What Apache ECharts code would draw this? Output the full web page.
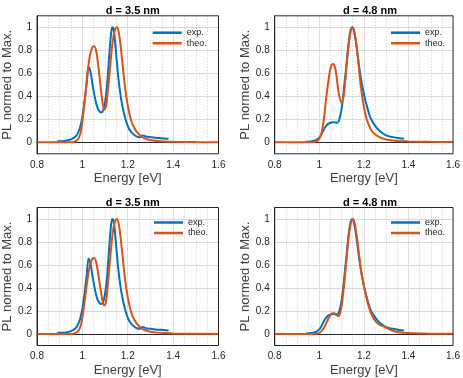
<!DOCTYPE html>
<html><head><meta charset="utf-8">
<script src="https://cdn.jsdelivr.net/npm/echarts@6/dist/echarts.min.js"></script>
<style>html,body{margin:0;padding:0;background:#fff}#c{width:463px;height:378px}</style>
</head><body><div id="c"></div>
<script>
// ---- data ----
const X_TICKS = [0.8, 1, 1.2, 1.4, 1.6];
const Y_TICKS = [0, 0.2, 0.4, 0.6, 0.8, 1];
const TITLES = ['d = 3.5 nm', 'd = 4.8 nm', 'd = 3.5 nm', 'd = 4.8 nm'];
const SERIES_NAMES = ['exp.', 'theo.'];

// d = 3.5 nm, experiment (both left panels)
const exp35_E = [0.89,0.92,0.95,0.97,0.98,0.99,1.0,1.01,1.02,1.027,1.035,1.045,1.055,1.065,1.075,1.083,1.092,1.1,1.108,1.115,1.122,1.128,1.133,1.138,1.143,1.15,1.158,1.166,1.175,1.185,1.195,1.205,1.215,1.225,1.24,1.255,1.265,1.272,1.28,1.3,1.32,1.34,1.36,1.38];
const exp35_I = [0.01,0.012,0.025,0.05,0.08,0.13,0.22,0.36,0.53,0.655,0.62,0.5,0.39,0.31,0.27,0.26,0.28,0.35,0.48,0.66,0.85,0.97,1.0,0.98,0.9,0.74,0.57,0.44,0.33,0.24,0.17,0.12,0.09,0.07,0.05,0.045,0.06,0.058,0.05,0.045,0.04,0.037,0.034,0.03];

// d = 3.5 nm, theory (top left)
const theoA_E = [0.8,0.95,0.965,0.975,0.985,0.995,1.005,1.015,1.025,1.035,1.045,1.052,1.06,1.068,1.076,1.084,1.091,1.097,1.104,1.112,1.12,1.128,1.136,1.144,1.152,1.16,1.168,1.176,1.185,1.195,1.205,1.215,1.225,1.24,1.26,1.28,1.3,1.33,1.36,1.4,1.5,1.6];
const theoA_I = [0,0,0.005,0.015,0.04,0.11,0.27,0.45,0.64,0.77,0.83,0.835,0.8,0.7,0.56,0.42,0.32,0.285,0.31,0.44,0.6,0.78,0.91,0.98,1.0,0.96,0.85,0.7,0.53,0.38,0.27,0.19,0.14,0.09,0.05,0.03,0.02,0.012,0.008,0.005,0.002,0.001];

// d = 3.5 nm, theory (bottom left)
const theoC_E = [0.8,0.95,0.965,0.975,0.985,0.995,1.005,1.015,1.025,1.035,1.045,1.052,1.06,1.068,1.076,1.084,1.091,1.097,1.104,1.112,1.12,1.128,1.136,1.144,1.152,1.16,1.168,1.176,1.185,1.195,1.205,1.215,1.225,1.24,1.26,1.28,1.3,1.33,1.36,1.4,1.5,1.6];
const theoC_I = [0,0,0.005,0.015,0.035,0.09,0.21,0.36,0.51,0.61,0.655,0.66,0.63,0.55,0.44,0.34,0.27,0.25,0.28,0.42,0.6,0.78,0.91,0.98,1.0,0.96,0.85,0.7,0.53,0.38,0.27,0.19,0.14,0.09,0.05,0.03,0.02,0.012,0.008,0.005,0.002,0.001];

// d = 4.8 nm, experiment (both right panels)
const exp48_E = [0.94,0.96,0.98,0.99,1.0,1.01,1.02,1.03,1.04,1.05,1.06,1.07,1.078,1.086,1.094,1.1,1.107,1.114,1.12,1.127,1.134,1.141,1.148,1.155,1.162,1.17,1.18,1.19,1.2,1.21,1.22,1.23,1.245,1.26,1.28,1.3,1.33,1.36,1.38];
const exp48_I = [0.005,0.008,0.015,0.025,0.04,0.07,0.11,0.14,0.16,0.17,0.175,0.172,0.17,0.18,0.23,0.29,0.4,0.53,0.64,0.78,0.9,0.98,1.0,0.97,0.9,0.79,0.64,0.52,0.42,0.34,0.27,0.21,0.16,0.12,0.085,0.06,0.045,0.035,0.03];

// d = 4.8 nm, theory (top right)
const theoB_E = [0.8,0.96,0.98,0.99,1.0,1.01,1.02,1.03,1.04,1.05,1.06,1.066,1.074,1.082,1.09,1.1,1.108,1.116,1.124,1.132,1.14,1.149,1.158,1.166,1.174,1.182,1.19,1.2,1.21,1.22,1.235,1.25,1.27,1.3,1.35,1.4,1.5,1.6];
const theoB_I = [0,0,0.005,0.012,0.03,0.08,0.19,0.37,0.52,0.64,0.68,0.675,0.62,0.5,0.4,0.345,0.39,0.52,0.7,0.85,0.96,1.0,0.96,0.86,0.72,0.56,0.43,0.31,0.22,0.16,0.1,0.07,0.045,0.025,0.012,0.008,0.004,0.002];

// d = 4.8 nm, theory (bottom right)
const theoD_E = [0.8,0.98,0.99,1.0,1.01,1.02,1.03,1.04,1.05,1.06,1.068,1.076,1.084,1.092,1.1,1.108,1.116,1.124,1.132,1.14,1.15,1.158,1.166,1.174,1.182,1.19,1.2,1.21,1.22,1.23,1.245,1.26,1.275,1.29,1.3,1.32,1.35,1.4,1.5,1.6];
const theoD_I = [0,0,0.004,0.01,0.025,0.05,0.09,0.13,0.165,0.18,0.18,0.165,0.155,0.17,0.24,0.37,0.52,0.69,0.85,0.95,1.0,0.97,0.88,0.76,0.63,0.52,0.42,0.33,0.25,0.19,0.13,0.095,0.075,0.065,0.055,0.035,0.018,0.008,0.003,0.002];

const PANELS = [
  {exp: [exp35_E, exp35_I], theo: [theoA_E, theoA_I]},
  {exp: [exp48_E, exp48_I], theo: [theoB_E, theoB_I]},
  {exp: [exp35_E, exp35_I], theo: [theoC_E, theoC_I]},
  {exp: [exp48_E, exp48_I], theo: [theoD_E, theoD_I]}
];

// ---- layout / style ----
const LAYOUT = [
  {left: 37, top: 15.8, width: 181.5, height: 138, legL: 152.7, legT: 27.7},
  {left: 274.7, top: 15.8, width: 180.5, height: 138, legL: 391, legT: 27.7},
  {left: 37, top: 207.5, width: 181.5, height: 138, legL: 154, legT: 217.5},
  {left: 274.7, top: 207.5, width: 180.5, height: 138, legL: 391, legT: 217.5}
];
const TXT = '#262626';
const FONT = 'Liberation Sans, Arial, sans-serif';
const BLUE = '#0072BD', ORANGE = '#D95319';
const pairs = (xs, ys) => xs.map((x, i) => [x, ys[i]]);

const grid = [], xAxis = [], yAxis = [], series = [], title = [], legend = [];
LAYOUT.forEach((L, i) => {
  grid.push({left: L.left, top: L.top, width: L.width, height: L.height, show: true,
    borderColor: TXT, borderWidth: 1, backgroundColor: 'rgba(0,0,0,0)', z: 10});
  title.push({text: TITLES[i], left: L.left + L.width / 2, top: L.top - 15, textAlign: 'center',
    textStyle: {fontFamily: FONT, fontSize: 11, fontWeight: 'bold', color: '#000'}});
  xAxis.push({type: 'value', gridIndex: i, min: 0.8, max: 1.6, interval: 0.2,
    name: 'Energy [eV]', nameLocation: 'middle', nameGap: 18,
    nameTextStyle: {fontFamily: FONT, fontSize: 13, color: '#404040'},
    axisLine: {show: true, lineStyle: {color: TXT, width: 1}},
    axisTick: {show: false},
    axisLabel: {fontFamily: FONT, fontSize: 10, color: TXT, margin: 6,
      formatter: v => { const t = X_TICKS.find(k => Math.abs(k - v) < 1e-6); return t === undefined ? '' : String(t); }},
    splitLine: {show: true, showMinLine: false, showMaxLine: false, lineStyle: {color: '#dedede', width: 1}},
    minorTick: {show: false, splitNumber: 4},
    minorSplitLine: {show: true, lineStyle: {color: '#cfcfcf', type: [1, 2], width: 1}}
  });
  // main y axis: labels + major grid
  yAxis.push({type: 'value', gridIndex: i, min: -0.1, max: 1.1, interval: 0.1,
    name: 'PL normed to Max.', nameLocation: 'middle', nameGap: 21,
    nameTextStyle: {fontFamily: FONT, fontSize: 13, color: '#404040'},
    axisLine: {show: true, lineStyle: {color: TXT, width: 1}},
    axisTick: {show: false},
    axisLabel: {fontFamily: FONT, fontSize: 10, color: TXT, margin: 5,
      formatter: v => { const t = Y_TICKS.find(k => Math.abs(k - v) < 1e-6); return t === undefined ? '' : String(t); }},
    splitLine: {show: true, lineStyle: {color: ['rgba(0,0,0,0)', '#dedede'], width: 1}}
  });
  // secondary y axis: minor dotted grid only
  yAxis.push({type: 'value', gridIndex: i, min: -0.1, max: 1.1, interval: 0.1, position: 'right',
    axisLine: {show: false}, axisTick: {show: false}, axisLabel: {show: false},
    splitLine: {show: true, showMinLine: false, showMaxLine: false,
      lineStyle: {color: ['#cfcfcf', 'rgba(0,0,0,0)'], type: [1, 2], width: 1}}
  });
  const P = PANELS[i];
  series.push({name: SERIES_NAMES[0], type: 'line', xAxisIndex: i, yAxisIndex: 2 * i,
    data: pairs(P.exp[0], P.exp[1]), smooth: 0.3, showSymbol: false, symbol: 'none',
    lineStyle: {color: BLUE, width: 2}, itemStyle: {color: BLUE}, z: 3});
  series.push({name: SERIES_NAMES[1], type: 'line', xAxisIndex: i, yAxisIndex: 2 * i,
    data: pairs(P.theo[0], P.theo[1]), smooth: 0.3, showSymbol: false, symbol: 'none',
    lineStyle: {color: ORANGE, width: 2}, itemStyle: {color: ORANGE}, z: 4});
  legend.push({data: SERIES_NAMES, orient: 'vertical', left: L.legL, top: L.legT, padding: 0,
    itemGap: 0.5, itemWidth: 29, itemHeight: 2.5, icon: 'rect', selectedMode: false,
    textStyle: {fontFamily: FONT, fontSize: 9, lineHeight: 10, color: TXT}});
});

const chart = echarts.init(document.getElementById('c'), null, {renderer: 'canvas'});
chart.setOption({animation: false, backgroundColor: '#fff', title, grid, xAxis, yAxis, series, legend});
</script></body></html>
